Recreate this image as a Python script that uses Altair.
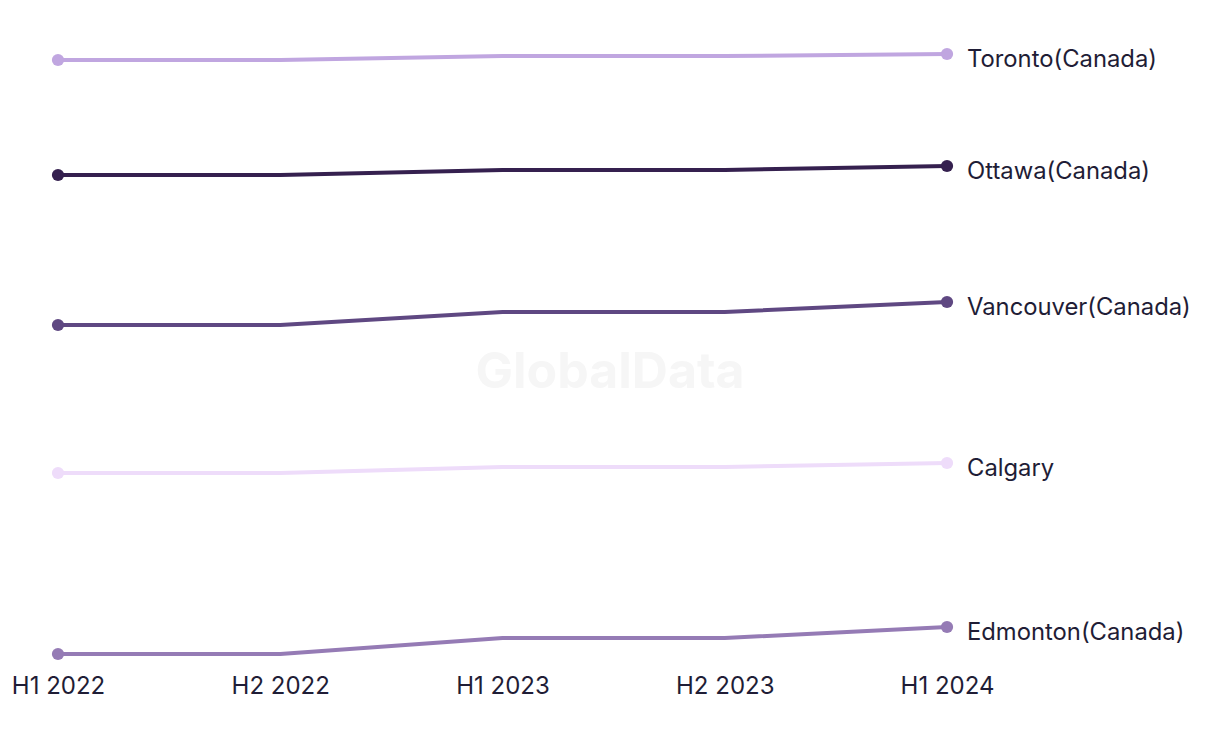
import altair as alt
import pandas as pd

periods = ["H1 2022", "H2 2022", "H1 2023", "H2 2023", "H1 2024"]
cities = ["Toronto(Canada)", "Ottawa(Canada)", "Vancouver(Canada)", "Calgary", "Edmonton(Canada)"]
toronto = [640, 640, 644, 644, 646]
ottawa = [525, 525, 530, 530, 534]
vancouver = [375, 375, 388, 388, 398]
calgary = [227, 227, 233, 233, 237]
edmonton = [46, 46, 62, 62, 73]
colors = ["#c0a6e0", "#35204f", "#5f4882", "#eedcfa", "#957bb5"]

series = [toronto, ottawa, vancouver, calgary, edmonton]
rows = []
for c, vals in zip(cities, series):
    for p, v in zip(periods, vals):
        rows.append({"period": p, "city": c, "value": v})
df = pd.DataFrame(rows)

x = alt.X("period:O", sort=periods, scale=alt.Scale(type="point", padding=0),
          axis=alt.Axis(title=None, labelAngle=0, ticks=False, domain=False, grid=False,
                        labelFontSize=24, labelColor="#1f1d36", labelPadding=14,
                        labelFont="Inter"))
y = alt.Y("value:Q", scale=alt.Scale(domain=[40, 660], nice=False, zero=False), axis=None)
color = alt.Color("city:N", scale=alt.Scale(domain=cities, range=colors), legend=None)

base = alt.Chart(df)
lines = base.mark_line(strokeWidth=4).encode(x=x, y=y, color=color)
points = base.transform_filter(
    alt.FieldOneOfPredicate(field="period", oneOf=[periods[0], periods[-1]])
).mark_point(filled=True, size=150, opacity=1).encode(x=x, y=y, color=color)
labels = base.transform_filter(
    alt.FieldEqualPredicate(field="period", equal=periods[-1])
).mark_text(align="left", baseline="middle", dx=20, dy=6, fontSize=23.8,
            font="Inter", color="#1f1d36").encode(x=x, y=y, text="city:N")

watermark = alt.Chart(pd.DataFrame({"t": ["GlobalData"]})).mark_text(
    fontSize=50, fontWeight="bold", font="Inter", color="#f6f6f6",
    align="center", baseline="middle"
).encode(x=alt.value(552), y=alt.value(333), text="t:N")

chart = alt.layer(watermark, lines, points, labels).properties(
    width=889, height=620,
    background="white",
    autosize=alt.AutoSizeParams(type="none"),
    padding={"left": 50, "top": 32, "right": 260, "bottom": 60},
).configure_view(strokeWidth=0, stroke=None)

chart.save("out.html", embed_options={"renderer": "svg", "actions": False})
